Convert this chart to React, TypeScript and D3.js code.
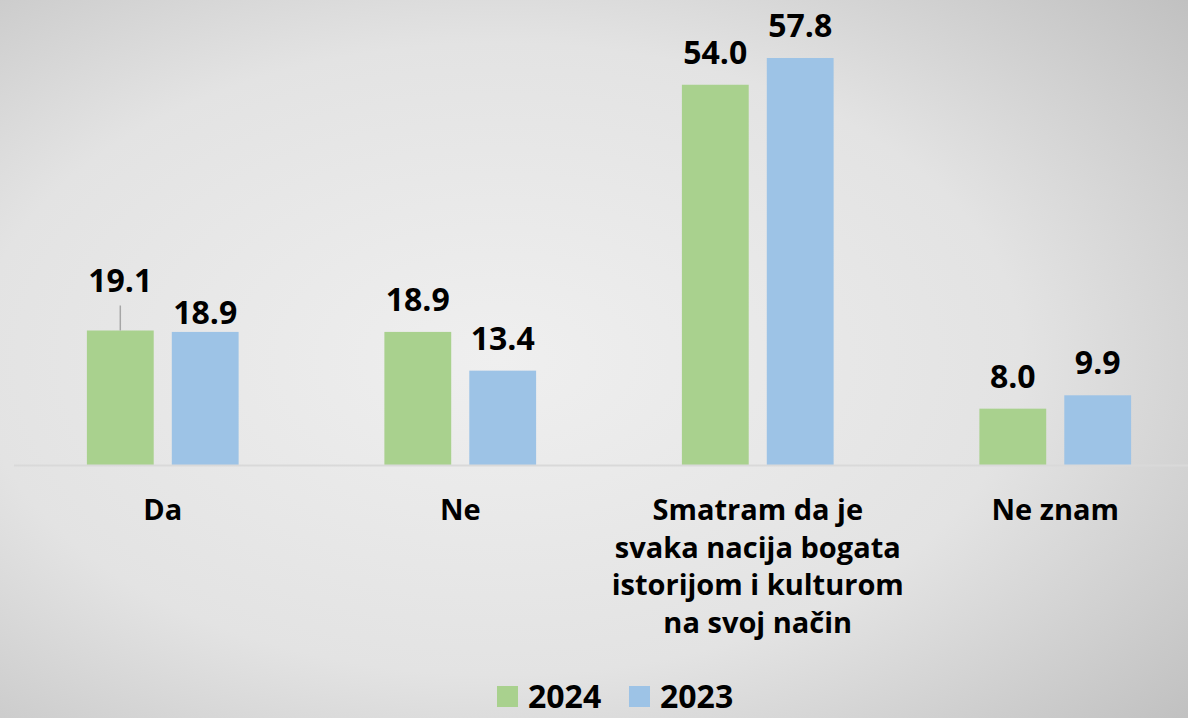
import { useEffect } from "react";
import * as d3 from "d3";

const categories = [
  ["Da"],
  ["Ne"],
  ["Smatram da je", "svaka nacija bogata", "istorijom i kulturom", "na svoj način"],
  ["Ne znam"],
];
const series = ["2024", "2023"];
const values2024 = [19.1, 18.9, 54.0, 8.0];
const values2023 = [18.9, 13.4, 57.8, 9.9];
const colors = ["#A9D18E", "#9DC3E6"];

const W = 1188;
const H = 718;
const FONT = "'Open Sans', 'Noto Sans', sans-serif";

export default function App() {
  useEffect(() => {
    document.body.style.margin = "0";
  }, []);

  const keys = categories.map((c) => c.join(" "));
  const x0 = d3
    .scaleBand<string>()
    .domain(keys)
    .range([14, 1204])
    .paddingInner(0.49)
    .paddingOuter(0.245);
  const x1 = d3
    .scaleBand<string>()
    .domain(series)
    .range([0, x0.bandwidth()])
    .paddingInner(0.213);
  const y = d3.scaleLinear().domain([0, 60]).range([465, 42.5]);

  const rows = keys.map((k, i) => ({
    key: k,
    lines: categories[i],
    vals: [values2024[i], values2023[i]],
  }));

  // in "Da" the labels were nudged by hand: 2024 up with a leader line, 2023 down
  const lifted = (i: number, j: number) => i === 0 && j === 0;
  const labelGap = (i: number, j: number) =>
    i === 0 ? (j === 0 ? 39 : 8) : 21;

  return (
    <svg width={W} height={H} style={{ display: "block" }} fontFamily={FONT}>
      <defs>
        <radialGradient id="bg" cx="0.42" cy="0.5" r="0.8">
          <stop offset="0" stopColor="#efefef" />
          <stop offset="0.55" stopColor="#e3e3e3" />
          <stop offset="1" stopColor="#bdbdbd" />
        </radialGradient>
      </defs>
      <rect width={W} height={H} fill="url(#bg)" />

      {rows.map((r, i) => (
        <g key={r.key} transform={`translate(${x0(r.key)},0)`}>
          {r.vals.map((v, j) => {
            const bx = x1(series[j])!;
            const cx = bx + x1.bandwidth() / 2;
            const top = y(v);
            return (
              <g key={series[j]}>
                <rect
                  x={bx}
                  y={top}
                  width={x1.bandwidth()}
                  height={y(0) - top}
                  fill={colors[j]}
                />
                {lifted(i, j) && (
                  <line
                    x1={cx}
                    x2={cx}
                    y1={top}
                    y2={top - 25}
                    stroke="#a6a6a6"
                    strokeWidth={1.5}
                  />
                )}
                <text
                  x={cx}
                  y={top - labelGap(i, j)}
                  textAnchor="middle"
                  fontSize={32}
                  fontWeight={700}
                  fill="#000"
                >
                  {v.toFixed(1)}
                </text>
              </g>
            );
          })}
          <text
            x={x0.bandwidth() / 2}
            y={520}
            textAnchor="middle"
            fontSize={29}
            fontWeight={700}
            fill="#000"
          >
            {r.lines.map((l, k) => (
              <tspan key={k} x={x0.bandwidth() / 2} dy={k === 0 ? 0 : 37.5}>
                {l}
              </tspan>
            ))}
          </text>
        </g>
      ))}

      <line
        x1={x0.range()[0]}
        x2={W}
        y1={y(0) + 0.5}
        y2={y(0) + 0.5}
        stroke="#d9d9d9"
        strokeWidth={2}
      />

      {series.map((s, j) => (
        <g key={s} transform={`translate(${497 + j * 132},686)`}>
          <rect width={21} height={21} fill={colors[j]} />
          <text x={31} y={22} fontSize={32} fontWeight={700} fill="#000">
            {s}
          </text>
        </g>
      ))}
    </svg>
  );
}
